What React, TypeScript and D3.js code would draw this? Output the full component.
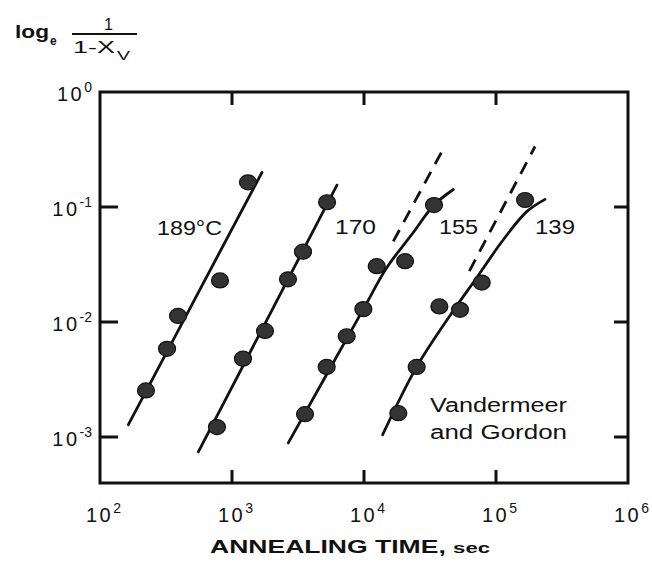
import React, { useEffect } from "react";
import * as d3 from "d3";

// annealing time (s) vs log_e 1/(1-Xv)
const t189 = [223, 322, 390, 811, 1321];
const v189 = [0.00254, 0.00585, 0.0113, 0.023, 0.164];
const t170 = [769, 1211, 1778, 2655, 3450, 5250];
const v170 = [0.00122, 0.0048, 0.00836, 0.0235, 0.0409, 0.11];
const t155 = [3573, 5212, 7396, 9885, 12480, 20470, 33900];
const v155 = [0.00158, 0.00407, 0.00752, 0.01294, 0.0306, 0.0338, 0.104];
const t139 = [18200, 25060, 37240, 53370, 77970, 166000];
const v139 = [0.00161, 0.00407, 0.01365, 0.01277, 0.022, 0.115];

// drawn curves
const fit189T = [164, 1687];
const fit189V = [0.00128, 0.2];
const fit170T = [556, 6240];
const fit170V = [0.000743, 0.155];
const fit155T = [2670, 9885, 14860, 23630, 33900, 47500];
const fit155V = [0.000888, 0.01294, 0.02963, 0.06003, 0.104, 0.142];
const fit139T = [13850, 25060, 47500, 71450, 113500, 170900, 235000];
const fit139V = [0.001047, 0.00407, 0.01252, 0.02428, 0.0519, 0.0911, 0.1165];
// dashed extrapolations
const dash155T = [16670, 41100];
const dash155V = [0.0502, 0.342];
const dash139T = [62800, 197500];
const dash139V = [0.0277, 0.3357];

const xTicks = [1e2, 1e3, 1e4, 1e5, 1e6];
const yTicks = [1e-3, 1e-2, 1e-1, 1];
const tempLabels = ["189°C", "170", "155", "139"];

const W = 652;
const H = 569;
const FONT = "'Liberation Sans', Arial, Helvetica, sans-serif";
const INK = "#111";

const x = d3.scaleLog().domain([1e2, 1e6]).range([100, 628]);
const y = d3.scaleLog().domain([Math.pow(10, -3.4), 1]).range([483, 92]);

const zip = (ts: number[], vs: number[]) => ts.map((t, i) => [t, vs[i]] as [number, number]);

const line = d3
  .line<[number, number]>()
  .x((d) => x(d[0]))
  .y((d) => y(d[1]))
  .curve(d3.curveCatmullRom.alpha(0.5));

const App = () => {
  useEffect(() => {
    document.body.style.margin = "0";
    document.body.style.background = "#fff";
  }, []);

  const dots = [zip(t189, v189), zip(t170, v170), zip(t155, v155), zip(t139, v139)];
  const fits = [zip(fit189T, fit189V), zip(fit170T, fit170V), zip(fit155T, fit155V), zip(fit139T, fit139V)];
  const dashes = [zip(dash155T, dash155V), zip(dash139T, dash139V)];
  // label spots: x px, baseline px, width px
  const labelPos = [
    [157, 235, 65],
    [335, 234, 41],
    [439, 234, 39],
    [535, 234, 40],
  ];

  return (
    <svg width={W} height={H} style={{ display: "block", background: "#fff" }} fontFamily={FONT}>
      {/* y title */}
      <g fill={INK}>
        <text x={15} y={38} fontSize={18} fontWeight="bold" textLength={34} lengthAdjust="spacingAndGlyphs">log</text>
        <text x={50} y={45} fontSize={12} fontWeight="bold">e</text>
        <text x={104} y={30} fontSize={17} textLength={9} lengthAdjust="spacingAndGlyphs">1</text>
        <line x1={72} x2={137} y1={34} y2={34} stroke={INK} strokeWidth={2} />
        <text x={73} y={53} fontSize={17} textLength={42} lengthAdjust="spacingAndGlyphs">1-X</text>
        <text x={117} y={60} fontSize={13} textLength={13} lengthAdjust="spacingAndGlyphs">V</text>
      </g>

      {/* frame */}
      <rect x={x(1e2)} y={y(1)} width={x(1e6) - x(1e2)} height={y.range()[0] - y(1)}
        fill="none" stroke={INK} strokeWidth={3} />

      {/* ticks */}
      <g stroke={INK} strokeWidth={3}>
        {xTicks.slice(1, -1).map((t) => (
          <g key={"xt" + t}>
            <line x1={x(t)} x2={x(t)} y1={483} y2={470} />
            <line x1={x(t)} x2={x(t)} y1={92} y2={105} />
          </g>
        ))}
        {yTicks.slice(0, -1).map((t) => (
          <g key={"yt" + t}>
            <line x1={100} x2={118} y1={y(t)} y2={y(t)} />
            <line x1={628} x2={614} y1={y(t)} y2={y(t)} />
          </g>
        ))}
      </g>

      {/* tick labels */}
      <g fill={INK} letterSpacing={2.5}>
        {xTicks.map((t) => (
          <text key={"xl" + t} x={x(t) - 14} y={522} fontSize={20}>
            10
            <tspan dy={-9} fontSize={14} letterSpacing={0}>{Math.round(Math.log10(t))}</tspan>
          </text>
        ))}
        {yTicks.map((t) => (
          <text key={"yl" + t} x={92} y={y(t) + 9} fontSize={20} textAnchor="end">
            10
            <tspan dy={-9} fontSize={14} letterSpacing={0}>{Math.round(Math.log10(t))}</tspan>
          </text>
        ))}
      </g>

      {/* fitted lines */}
      <g fill="none" stroke={INK} strokeWidth={2.8} strokeLinecap="round">
        {fits.map((f, i) => (
          <path key={"f" + i} d={line(f) || ""} />
        ))}
        {dashes.map((f, i) => (
          <path key={"d" + i} d={line(f) || ""} strokeDasharray="13 9" strokeLinecap="butt" />
        ))}
      </g>

      {/* data points */}
      <g fill="#333" stroke="#111" strokeWidth={1.2}>
        {dots.map((s, i) =>
          s.map((d, j) => <ellipse key={i + "-" + j} cx={x(d[0])} cy={y(d[1])} rx={8.5} ry={7.5} />)
        )}
      </g>

      {/* temperature labels */}
      <g fill={INK} fontSize={20}>
        {tempLabels.map((l, i) => (
          <text key={l} x={labelPos[i][0]} y={labelPos[i][1]} textLength={labelPos[i][2]}
            lengthAdjust="spacingAndGlyphs">{l}</text>
        ))}
        <text x={430} y={412} textLength={137} lengthAdjust="spacingAndGlyphs">Vandermeer</text>
        <text x={430} y={439} textLength={137} lengthAdjust="spacingAndGlyphs">and Gordon</text>
      </g>

      {/* x title */}
      <text x={210} y={553} fontSize={18} fontWeight="bold" fill={INK}
        textLength={280} lengthAdjust="spacingAndGlyphs">
        ANNEALING TIME, <tspan fontSize={15}>sec</tspan>
      </text>
    </svg>
  );
};

export default App;
